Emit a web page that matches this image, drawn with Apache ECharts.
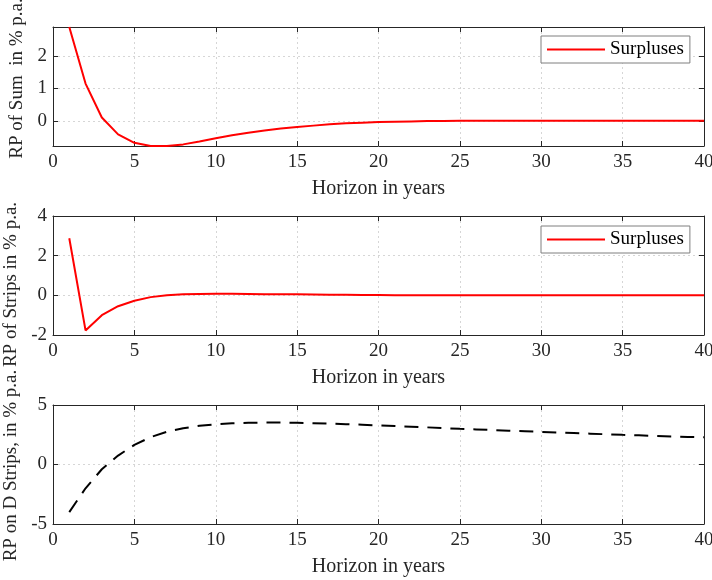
<!DOCTYPE html>
<html>
<head>
<meta charset="utf-8">
<script src="https://cdn.jsdelivr.net/npm/echarts@6/dist/echarts.min.js"></script>
<style>
  html, body { margin: 0; padding: 0; background: #fff; }
  #chart { width: 712px; height: 580px; }
</style>
</head>
<body>
<div id="chart"></div>
<script>
// horizon in years
var horizon = [1, 2, 3, 4, 5, 6, 7, 8, 9, 10,
    11, 12, 13, 14, 15, 16, 17, 18, 19, 20,
    21, 22, 23, 24, 25, 26, 27, 28, 29, 30,
    31, 32, 33, 34, 35, 36, 37, 38, 39, 40];

// RP of sum (surpluses)
var rpSum = [2.90, 1.15, 0.10, -0.42, -0.68, -0.78, -0.78, -0.73, -0.64, -0.54,
    -0.45, -0.37, -0.30, -0.24, -0.19, -0.15, -0.11, -0.08, -0.06, -0.04,
    -0.03, -0.02, -0.01, -0.01, 0.00, 0.00, 0.00, 0.00, 0.00, 0.00,
    0.00, 0.00, 0.00, 0.00, 0.00, 0.00, 0.00, 0.00, 0.00, 0.00];

// RP of strips (surpluses)
var rpStrips = [2.88, -1.77, -1.00, -0.55, -0.27, -0.09, 0.01, 0.05, 0.07, 0.08,
    0.08, 0.07, 0.06, 0.05, 0.05, 0.04, 0.03, 0.03, 0.02, 0.02,
    0.01, 0.01, 0.01, 0.01, 0.00, 0.00, 0.00, 0.00, 0.00, 0.00,
    0.00, 0.00, 0.00, 0.00, 0.00, 0.00, 0.00, 0.00, 0.00, 0.00];

// RP on D strips
var rpDStrips = [-4.00, -2.00, -0.40, 0.75, 1.65, 2.30, 2.75, 3.05, 3.25, 3.38,
    3.46, 3.50, 3.52, 3.52, 3.50, 3.47, 3.43, 3.39, 3.34, 3.29,
    3.23, 3.18, 3.12, 3.06, 3.00, 2.95, 2.90, 2.84, 2.79, 2.74,
    2.69, 2.64, 2.59, 2.54, 2.49, 2.45, 2.40, 2.36, 2.32, 2.28];

var sumTicks = [0, 1, 2];
var yNames = ['RP of Sum  in % p.a.', 'RP of Strips in % p.a.', 'RP on D Strips, in % p.a.'];
// nudges for the rotated y titles (left / right padding)
var yNamePad = [[0, 0, 0, 16], [0, 18, 0, 0], [0, 2, 0, 0]];

var FONT = 'Liberation Serif';
var INK = '#262626';
var FS = 19;

function pairs(ys) {
    var out = [];
    for (var i = 0; i < horizon.length; i++) {
        out.push([horizon[i], ys[i]]);
    }
    return out;
}

function xAxisFor(idx, top) {
    return {
        type: 'value', gridIndex: idx, position: top ? 'top' : 'bottom',
        min: 0, max: 40, interval: 5,
        name: top ? '' : 'Horizon in years',
        nameLocation: 'middle', nameGap: 33,
        nameTextStyle: { fontFamily: FONT, fontSize: 20, color: INK },
        axisLine: { show: true, onZero: false, lineStyle: { color: INK, width: 1 } },
        axisTick: { show: true, inside: true, length: 5, lineStyle: { color: INK } },
        axisLabel: { show: !top, fontFamily: FONT, fontSize: FS, color: INK, margin: 7 },
        splitLine: { show: !top, lineStyle: { color: '#d6d6d6', type: [2, 3] } }
    };
}

function yAxisFor(idx, right, range) {
    var ax = {
        type: 'value', gridIndex: idx, position: right ? 'right' : 'left',
        min: range[0], max: range[1],
        name: right ? '' : yNames[idx],
        nameLocation: 'middle', nameGap: 25,
        nameTextStyle: { fontFamily: FONT, fontSize: FS, color: INK, padding: yNamePad[idx] },
        axisLine: { show: true, onZero: false, lineStyle: { color: INK, width: 1 } },
        axisTick: { show: true, inside: true, length: 5, lineStyle: { color: INK } },
        axisLabel: { show: !right, fontFamily: FONT, fontSize: FS, color: INK, margin: 6 },
        splitLine: { show: !right, lineStyle: { color: '#d6d6d6', type: [2, 3] } }
    };
    if (range[2]) {
        ax.interval = range[2];
    } else {
        ax.axisTick.customValues = sumTicks;
        ax.axisLabel.customValues = sumTicks;
    }
    return ax;
}

var ranges = [[-0.78, 2.9, 0], [-2, 4, 2], [-5, 5, 5]];
var gridTops = [27, 216, 405];

var grids = [], xAxes = [], yAxes = [];
for (var g = 0; g < 3; g++) {
    grids.push({ left: 53, top: gridTops[g], width: 651, height: 119, containLabel: false, outerBoundsMode: 'none' });
    xAxes.push(xAxisFor(g, false));
    xAxes.push(xAxisFor(g, true));
    yAxes.push(yAxisFor(g, false, ranges[g]));
    yAxes.push(yAxisFor(g, true, ranges[g]));
}

function legendAt(top) {
    return {
        data: ['Surpluses'], left: 541, top: top,
        orient: 'horizontal', icon: 'rect',
        itemWidth: 58, itemHeight: 2, itemGap: 5,
        padding: [4, 6, 4, 6],
        backgroundColor: '#fff', borderColor: '#7f7f7f', borderWidth: 1,
        selectedMode: false,
        textStyle: { fontFamily: FONT, fontSize: FS, color: '#000' }
    };
}

var option = {
    animation: false,
    backgroundColor: '#fff',
    grid: grids,
    xAxis: xAxes,
    yAxis: yAxes,
    legend: [legendAt(36), legendAt(226)],
    series: [{
        name: 'Surpluses', type: 'line', xAxisIndex: 0, yAxisIndex: 0,
        data: pairs(rpSum), showSymbol: false, clip: true,
        lineStyle: { color: '#ff0000', width: 2 }, itemStyle: { color: '#ff0000' }
    }, {
        name: 'Surpluses', type: 'line', xAxisIndex: 2, yAxisIndex: 2,
        data: pairs(rpStrips), showSymbol: false, clip: true,
        lineStyle: { color: '#ff0000', width: 2 }, itemStyle: { color: '#ff0000' }
    }, {
        name: 'D Strips', type: 'line', xAxisIndex: 4, yAxisIndex: 4,
        data: pairs(rpDStrips), showSymbol: false, clip: true,
        lineStyle: { color: '#000', width: 2, type: [14, 9] }, itemStyle: { color: '#000' }
    }]
};

var myChart = echarts.init(document.getElementById('chart'));
myChart.setOption(option);
</script>
</body>
</html>
